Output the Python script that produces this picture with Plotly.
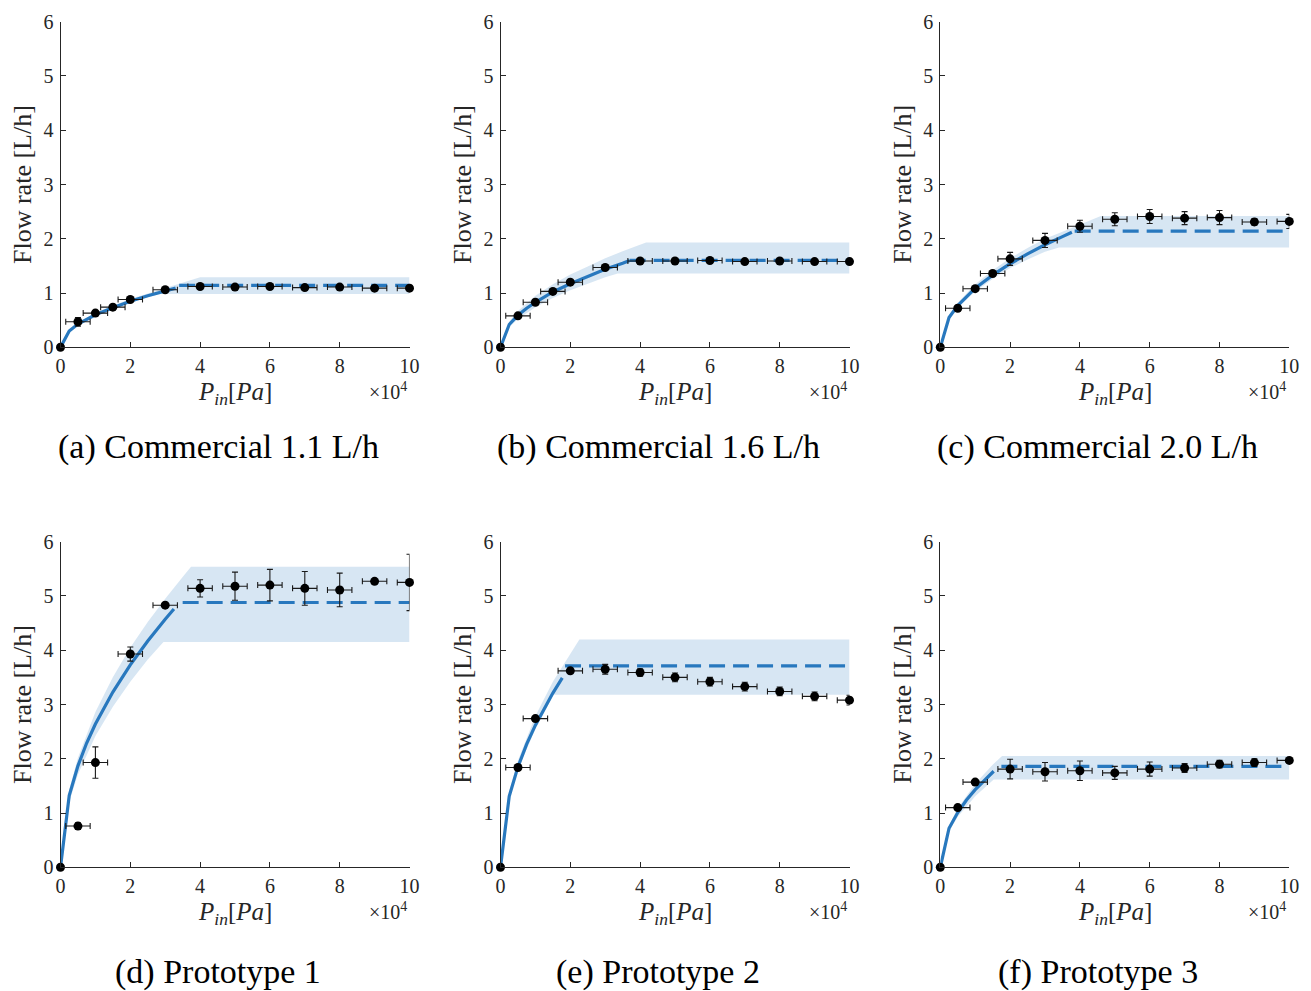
import plotly.graph_objects as go
from plotly.subplots import make_subplots

W, H = 1311, 991

# ---------------- data (pressure in units of 1e4 Pa, flow in L/h) ----------------
captions = ["(a) Commercial 1.1 L/h", "(b) Commercial 1.6 L/h", "(c) Commercial 2.0 L/h",
            "(d) Prototype 1", "(e) Prototype 2", "(f) Prototype 3"]

p_top = [0, 0.5, 1, 1.5, 2, 3, 4, 5, 6, 7, 8, 9, 10]
p_bot = [0, 0.5, 1, 2, 3, 4, 5, 6, 7, 8, 9, 10]

q_a = [0, 0.47, 0.63, 0.74, 0.88, 1.06, 1.12, 1.11, 1.12, 1.10, 1.11, 1.09, 1.09]
q_b = [0, 0.58, 0.83, 1.03, 1.20, 1.47, 1.59, 1.59, 1.60, 1.58, 1.59, 1.58, 1.58]
q_c = [0, 0.72, 1.08, 1.36, 1.63, 1.97, 2.23, 2.36, 2.41, 2.38, 2.39, 2.31, 2.32]
q_d = [0, 0.76, 1.93, 3.93, 4.83, 5.14, 5.18, 5.20, 5.14, 5.11, 5.27, 5.25]
q_e = [0, 1.84, 2.74, 3.62, 3.65, 3.59, 3.50, 3.42, 3.33, 3.24, 3.15, 3.08]
q_f = [0, 1.10, 1.57, 1.81, 1.76, 1.78, 1.74, 1.81, 1.83, 1.90, 1.93, 1.97]

qerr_a = [0, 0.08, 0.04, 0.04, 0.04, 0.03, 0.03, 0.03, 0.03, 0.03, 0.03, 0.03, 0.03]
qerr_b = [0, 0.03, 0.03, 0.03, 0.03, 0.03, 0.03, 0.03, 0.03, 0.03, 0.03, 0.03, 0.03]
qerr_c = [0, 0.03, 0.03, 0.03, 0.12, 0.13, 0.11, 0.12, 0.13, 0.12, 0.13, 0.06, 0.13]
qerr_d = [0, 0.06, 0.29, 0.13, 0.03, 0.16, 0.26, 0.29, 0.31, 0.31, 0.03, 0.52]
qerr_e = [0, 0.03, 0.03, 0.05, 0.09, 0.07, 0.08, 0.08, 0.08, 0.08, 0.08, 0.09]
qerr_f = [0, 0.03, 0.03, 0.18, 0.17, 0.18, 0.12, 0.13, 0.08, 0.07, 0.07, 0.03]

perr_top = [0, 0.35, 0.35, 0.35, 0.35, 0.35, 0.35, 0.35, 0.35, 0.35, 0.35, 0.35, 0.35]
perr_bot = [0, 0.35, 0.35, 0.35, 0.35, 0.35, 0.35, 0.35, 0.35, 0.35, 0.35, 0.35]

# model curve (solid) before saturation
cx_a = [0, 0.25, 0.5, 0.75, 1, 1.5, 2, 2.5, 3, 3.3]
cy_a = [0, 0.30, 0.43, 0.52, 0.60, 0.73, 0.85, 0.95, 1.04, 1.09]
cx_b = [0, 0.25, 0.5, 0.75, 1, 1.5, 2, 2.5, 3, 3.5, 3.7]
cy_b = [0, 0.42, 0.59, 0.72, 0.83, 1.02, 1.17, 1.31, 1.44, 1.55, 1.60]
cx_c = [0, 0.25, 0.5, 0.75, 1, 1.5, 2, 2.5, 3, 3.5, 3.77]
cy_c = [0, 0.55, 0.77, 0.94, 1.09, 1.33, 1.54, 1.72, 1.89, 2.04, 2.12]
cx_d = [0, 0.25, 0.5, 0.75, 1, 1.5, 2, 2.5, 3, 3.25]
cy_d = [0, 1.32, 1.87, 2.29, 2.64, 3.23, 3.73, 4.17, 4.57, 4.76]
cx_e = [0, 0.25, 0.5, 0.75, 1, 1.25, 1.5, 1.77]
cy_e = [0, 1.31, 1.85, 2.27, 2.62, 2.93, 3.21, 3.49]
cx_f = [0, 0.25, 0.5, 0.75, 1, 1.25, 1.53]
cy_f = [0, 0.72, 1.01, 1.24, 1.43, 1.60, 1.77]

# saturation (dashed): start pressure, level
sat_a = (3.4, 1.14)
sat_b = (3.7, 1.60)
sat_c = (3.85, 2.14)
sat_d = (3.5, 4.88)
sat_e = (1.85, 3.71)
sat_f = (1.75, 1.86)

# uncertainty band: upper and lower edges
ux_a = [0, 0.25, 0.5, 1, 1.5, 2, 2.5, 3, 3.3, 4.0, 10]
uy_a = [0, 0.32, 0.45, 0.63, 0.77, 0.89, 0.99, 1.09, 1.14, 1.29, 1.29]
lx_a = [0, 0.25, 0.5, 1, 1.5, 2, 2.5, 2.85, 10]
ly_a = [0, 0.29, 0.41, 0.58, 0.71, 0.82, 0.92, 0.98, 0.98]

ux_b = [0, 0.25, 0.5, 1, 1.5, 2, 2.5, 3, 3.5, 4.17, 10]
uy_b = [0, 0.47, 0.67, 0.95, 1.16, 1.34, 1.49, 1.64, 1.77, 1.93, 1.93]
lx_b = [0, 0.25, 0.5, 1, 1.5, 2, 2.5, 3, 3.36, 10]
ly_b = [0, 0.37, 0.52, 0.74, 0.91, 1.05, 1.17, 1.29, 1.36, 1.36]

ux_c = [0, 0.25, 0.5, 1, 1.5, 2, 2.5, 3, 3.5, 4, 4.6, 10]
uy_c = [0, 0.58, 0.82, 1.16, 1.42, 1.64, 1.83, 2.00, 2.13, 2.26, 2.42, 2.42]
lx_c = [0, 0.25, 0.5, 1, 1.5, 2, 2.5, 3, 3.4, 10]
ly_c = [0, 0.52, 0.73, 1.03, 1.26, 1.46, 1.62, 1.76, 1.84, 1.84]

ux_d = [0, 0.25, 0.5, 1, 1.5, 2, 2.5, 3, 3.5, 3.74, 10]
uy_d = [0, 1.43, 2.02, 2.86, 3.50, 4.05, 4.52, 4.95, 5.35, 5.54, 5.54]
lx_d = [0, 0.25, 0.5, 1, 1.5, 2, 2.5, 2.95, 10]
ly_d = [0, 1.21, 1.71, 2.42, 2.96, 3.42, 3.83, 4.15, 4.15]

ux_e = [0, 0.25, 0.5, 1, 1.5, 2, 2.26, 10]
uy_e = [0, 1.40, 1.97, 2.79, 3.42, 3.95, 4.20, 4.20]
lx_e = [0, 0.25, 0.5, 1, 1.25, 1.52, 10]
ly_e = [0, 1.28, 1.80, 2.55, 2.85, 3.18, 3.18]

ux_f = [0, 0.25, 0.5, 1, 1.5, 1.77, 10]
uy_f = [0, 0.77, 1.09, 1.54, 1.89, 2.05, 2.05]
lx_f = [0, 0.25, 0.5, 1, 1.25, 1.53, 10]
ly_f = [0, 0.66, 0.93, 1.31, 1.46, 1.62, 1.62]

x_ticks = [0, 2, 4, 6, 8, 10]
y_ticks = [0, 1, 2, 3, 4, 5, 6]
p_max = 10

panels = [
    (p_top, q_a, perr_top, qerr_a, cx_a, cy_a, sat_a, ux_a, uy_a, lx_a, ly_a),
    (p_top, q_b, perr_top, qerr_b, cx_b, cy_b, sat_b, ux_b, uy_b, lx_b, ly_b),
    (p_top, q_c, perr_top, qerr_c, cx_c, cy_c, sat_c, ux_c, uy_c, lx_c, ly_c),
    (p_bot, q_d, perr_bot, qerr_d, cx_d, cy_d, sat_d, ux_d, uy_d, lx_d, ly_d),
    (p_bot, q_e, perr_bot, qerr_e, cx_e, cy_e, sat_e, ux_e, uy_e, lx_e, ly_e),
    (p_bot, q_f, perr_bot, qerr_f, cx_f, cy_f, sat_f, ux_f, uy_f, lx_f, ly_f),
]

# ---------------- styling / layout ----------------
LINE = "#2878BE"
BAND = "rgba(40,120,190,0.19)"
AX = "#262626"
SERIF = "Liberation Serif, Times New Roman, serif"

col_px = [(60.5, 409.5), (500.5, 849.5), (940.3, 1289.3)]
row_px = [(21.7, 347.3), (541.7, 867.3)]

fig = make_subplots(rows=2, cols=3)

annotations = []
for i, (px, q, pe, qe, cx, cy, sat, ux, uy, lx, ly) in enumerate(panels):
    r, c = i // 3 + 1, i % 3 + 1
    # band
    fig.add_trace(go.Scatter(x=ux + lx[::-1], y=uy + ly[::-1], fill="toself",
                             fillcolor=BAND, line=dict(width=0), mode="lines",
                             hoverinfo="skip"), row=r, col=c)
    # model curve
    fig.add_trace(go.Scatter(x=cx, y=cy, mode="lines",
                             line=dict(color=LINE, width=3.2)), row=r, col=c)
    # saturation
    fig.add_trace(go.Scatter(x=[sat[0], p_max], y=[sat[1], sat[1]], mode="lines",
                             line=dict(color=LINE, width=3.2, dash="16px,8px")), row=r, col=c)
    # error bars
    fig.add_trace(go.Scatter(x=px, y=q, mode="markers",
                             marker=dict(size=2, color="rgba(0,0,0,0)"),
                             error_x=dict(type="data", array=pe, color="#1a1a1a", thickness=1.1, width=3),
                             error_y=dict(type="data", array=qe, color="#1a1a1a", thickness=1.1, width=3),
                             cliponaxis=True), row=r, col=c)
    # markers
    fig.add_trace(go.Scatter(x=px, y=q, mode="markers",
                             marker=dict(size=9, color="black"), cliponaxis=False), row=r, col=c)

    x0, x1 = col_px[c - 1]
    y0, y1 = row_px[r - 1]
    xa = "xaxis" if i == 0 else f"xaxis{i+1}"
    ya = "yaxis" if i == 0 else f"yaxis{i+1}"
    fig.layout[xa].update(domain=[x0 / W, x1 / W], range=[0, p_max], tickvals=x_ticks,
                          showline=True, linecolor=AX, linewidth=1, ticks="inside", ticklen=5,
                          tickcolor=AX, showgrid=False, zeroline=False,
                          tickfont=dict(family=SERIF, size=20, color=AX), ticklabelstandoff=1)
    fig.layout[ya].update(domain=[1 - y1 / H, 1 - y0 / H], range=[0, 6], tickvals=y_ticks,
                          showline=True, linecolor=AX, linewidth=1, ticks="inside", ticklen=5,
                          tickcolor=AX, showgrid=False, zeroline=False,
                          tickfont=dict(family=SERIF, size=20, color=AX), ticklabelstandoff=2)

    # y title
    annotations.append(dict(text="Flow rate [L/h]", x=(x0 - 38) / W, y=1 - ((y0 + y1) / 2) / H,
                            xref="paper", yref="paper", showarrow=False, textangle=-90,
                            xanchor="center", yanchor="middle",
                            font=dict(family=SERIF, size=26, color=AX)))
    # x title
    annotations.append(dict(text="<i>P</i><sub><i>in</i></sub>[<i>Pa</i>]",
                            x=((x0 + x1) / 2) / W, y=1 - (y1 + 46) / H,
                            xref="paper", yref="paper", showarrow=False,
                            xanchor="center", yanchor="middle",
                            font=dict(family=SERIF, size=25, color=AX)))
    # multiplier
    annotations.append(dict(text="×10<sup>4</sup>", x=(x1 - 1) / W, y=1 - (y1 + 44) / H,
                            xref="paper", yref="paper", showarrow=False,
                            xanchor="right", yanchor="middle",
                            font=dict(family=SERIF, size=20, color=AX)))
    # caption
    annotations.append(dict(text=captions[i], x=((x0 + x1) / 2 - 17) / W,
                            y=1 - (y1 + 100) / H if r == 1 else 1 - (y1 + 105) / H,
                            xref="paper", yref="paper", showarrow=False,
                            xanchor="center", yanchor="middle",
                            font=dict(family=SERIF, size=34, color="black")))

fig.update_layout(width=W, height=H, margin=dict(l=0, r=0, t=0, b=0, autoexpand=False),
                  paper_bgcolor="white", plot_bgcolor="white", showlegend=False,
                  annotations=annotations)

fig.write_html("out.html")
